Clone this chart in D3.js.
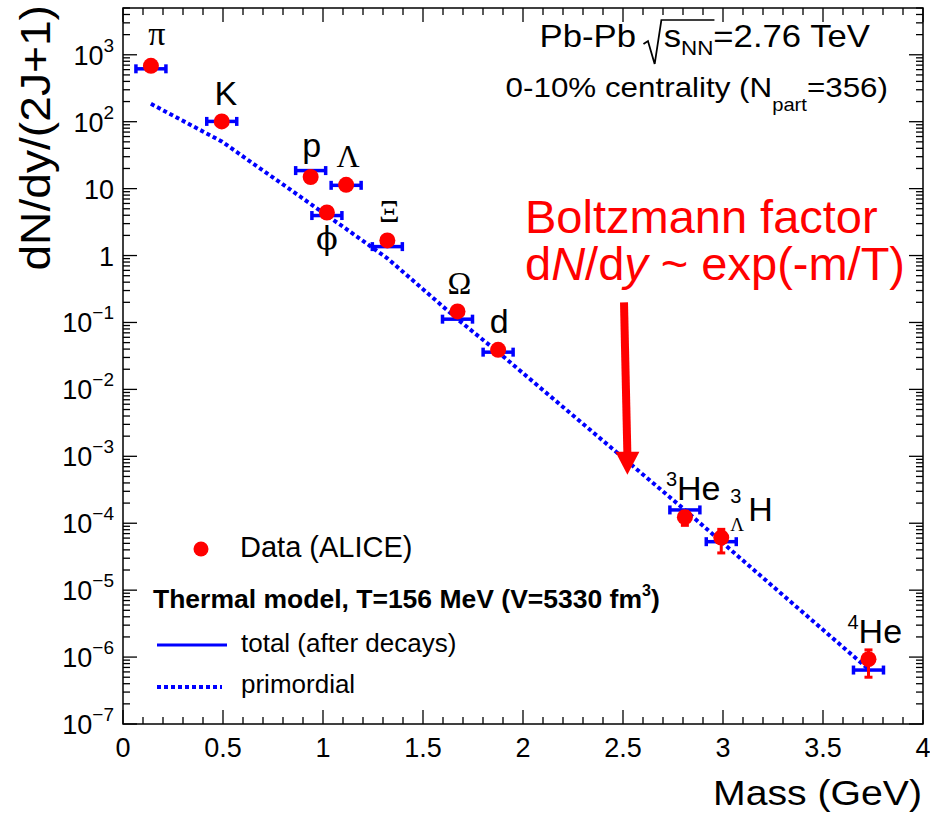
<!DOCTYPE html>
<html>
<head>
<meta charset="utf-8">
<script src="https://cdn.jsdelivr.net/npm/d3@7"></script>
<style>
  body { margin: 0; background: #fff; }
  svg { display: block; font-family: "Liberation Sans", Arial, sans-serif; }
</style>
</head>
<body>
<svg id="chart"></svg>
<script>
// particle masses (GeV), measured yields and thermal model yields
const particles = ['pi', 'K', 'p', 'phi', 'Lambda', 'Xi', 'Omega', 'd', 'He3', 'H3L', 'He4'];
const masses = [0.1396, 0.4937, 0.9383, 1.0195, 1.1157, 1.3217, 1.6725, 1.8756, 2.8094, 2.9913, 3.7274];
const dataYield = [684, 101, 14.9, 4.4, 11.4, 1.68, 0.146, 0.039, 1.23e-4, 6.1e-5, 9.3e-7];
const dataErrLow = [null, null, null, null, null, null, null, null, 0.93e-4, 3.6e-5, 5.0e-7];
const dataErrHigh = [null, null, null, null, null, null, null, null, 1.5e-4, 8.1e-5, 1.28e-6];
const modelTotal = [617, 101, 18.6, 3.96, 11.2, 1.36, 0.112, 0.036, 1.58e-4, 5.3e-5, 6.4e-7];
const modelPrimordial = [185, 50.6, 5.9, 3.96, 2.5, 0.91, 0.112, 0.036, 1.58e-4, 5.3e-5, 6.6e-7];

const xTicks = [0, 0.5, 1, 1.5, 2, 2.5, 3, 3.5, 4];
const xTickLabels = ['0', '0.5', '1', '1.5', '2', '2.5', '3', '3.5', '4'];
const yDecades = [-7, -6, -5, -4, -3, -2, -1, 0, 1, 2, 3];

const width = 930;
const height = 819;
const blue = '#0000ff';
const red = '#ff0000';

const svg = d3.select('#chart')
  .attr('width', width)
  .attr('height', height);

const x = d3.scaleLinear().domain([0, 4]).range([123, 923]);
const y = d3.scaleLog().domain([1e-7, 5e3]).range([724, 8]);

// frame
svg.append('rect')
  .attr('x', x(0)).attr('y', y(5e3))
  .attr('width', x(4) - x(0)).attr('height', y(1e-7) - y(5e3))
  .attr('fill', 'none').attr('stroke', '#000').attr('stroke-width', 1.5);

// x ticks (bottom and top, pointing inward)
const xMinor = d3.range(0, 4.0001, 0.1);
const ticks = svg.append('g').attr('stroke', '#000').attr('stroke-width', 1.3);
xMinor.forEach(v => {
  const major = Math.abs(v * 2 - Math.round(v * 2)) < 1e-6;
  const len = major ? 14 : 7;
  ticks.append('line').attr('x1', x(v)).attr('x2', x(v)).attr('y1', y(1e-7)).attr('y2', y(1e-7) - len);
  ticks.append('line').attr('x1', x(v)).attr('x2', x(v)).attr('y1', y(5e3)).attr('y2', y(5e3) + len);
});

// y ticks (left and right, log)
const yTickVals = [];
yDecades.forEach(e => {
  for (let k = 1; k <= 9; k++) {
    const v = k * Math.pow(10, e);
    if (v <= 5e3) yTickVals.push({ v, major: k === 1 });
  }
});
yTickVals.forEach(t => {
  const len = t.major ? 14 : 7;
  ticks.append('line').attr('x1', x(0)).attr('x2', x(0) + len).attr('y1', y(t.v)).attr('y2', y(t.v));
  ticks.append('line').attr('x1', x(4)).attr('x2', x(4) - len).attr('y1', y(t.v)).attr('y2', y(t.v));
});

// x tick labels
svg.append('g').selectAll('text')
  .data(xTicks)
  .enter()
  .append('text')
  .attr('x', d => x(d))
  .attr('y', 757)
  .attr('text-anchor', 'middle')
  .attr('font-size', 27)
  .text((d, i) => xTickLabels[i]);

// y tick labels
const yLab = svg.append('g').attr('font-size', 27).attr('text-anchor', 'end');
yDecades.forEach(e => {
  const t = yLab.append('text').attr('x', 114).attr('y', y(Math.pow(10, e)) + 10);
  if (e === 0) t.text('1');
  else if (e === 1) t.text('10');
  else {
    t.append('tspan').text('10');
    t.append('tspan').attr('font-size', 19).attr('dy', -13).text(e < 0 ? '\u2212' + (-e) : String(e));
  }
});

// axis titles (the original font runs a little wide, hence the stretch)
svg.append('text')
  .attr('transform', 'translate(50,5) rotate(-90) scale(1.1,1)')
  .attr('text-anchor', 'end')
  .attr('font-size', 42)
  .text('dN/dy/(2J+1)');

svg.append('text')
  .attr('transform', 'translate(922,805) scale(1.12,1)')
  .attr('text-anchor', 'end')
  .attr('font-size', 35)
  .text('Mass (GeV)');

// primordial (dotted line)
const line = d3.line().x(d => x(d[0])).y(d => y(d[1]));
svg.append('path')
  .datum(masses.map((m, i) => [m, modelPrimordial[i]]))
  .attr('d', line)
  .attr('fill', 'none')
  .attr('stroke', blue)
  .attr('stroke-width', 4)
  .attr('stroke-dasharray', '4,3');

// thermal model total: horizontal bars with end caps
const bars = svg.append('g').attr('stroke', blue).attr('stroke-width', 3.5);
masses.forEach((m, i) => {
  const cx = x(m), cy = y(modelTotal[i]);
  bars.append('line').attr('x1', cx - 15).attr('x2', cx + 15).attr('y1', cy).attr('y2', cy);
  bars.append('line').attr('x1', cx - 15).attr('x2', cx - 15).attr('y1', cy - 4.5).attr('y2', cy + 4.5);
  bars.append('line').attr('x1', cx + 15).attr('x2', cx + 15).attr('y1', cy - 4.5).attr('y2', cy + 4.5);
});

// data: error bars and dots
const errs = svg.append('g').attr('stroke', red).attr('stroke-width', 3);
masses.forEach((m, i) => {
  if (dataErrLow[i] == null) return;
  const cx = x(m);
  errs.append('line').attr('x1', cx).attr('x2', cx).attr('y1', y(dataErrLow[i])).attr('y2', y(dataErrHigh[i]));
  errs.append('line').attr('x1', cx - 4).attr('x2', cx + 4).attr('y1', y(dataErrLow[i])).attr('y2', y(dataErrLow[i]));
  errs.append('line').attr('x1', cx - 4).attr('x2', cx + 4).attr('y1', y(dataErrHigh[i])).attr('y2', y(dataErrHigh[i]));
});
svg.append('g').selectAll('circle')
  .data(masses)
  .enter()
  .append('circle')
  .attr('cx', d => x(d))
  .attr('cy', (d, i) => y(dataYield[i]))
  .attr('r', 8)
  .attr('fill', red);

// particle labels, offsets relative to the data point
const labelOffset = {
  pi: [6, -21], K: [4, -16], p: [1, -20], phi: [0, 37], Lambda: [2, -18], Xi: [2, -18],
  Omega: [2, -17], d: [1, -17], He3: [-19, -17], H3L: [9, -17], He4: [-21, -16]
};
const serif = '"Liberation Serif", "DejaVu Serif", serif';
const labels = svg.append('g').attr('font-size', 34).attr('fill', '#000');
function place(name) {
  const i = particles.indexOf(name);
  const o = labelOffset[name];
  return [x(masses[i]) + o[0], y(dataYield[i]) + o[1]];
}
function simple(name, txt, font, size) {
  const [px, py] = place(name);
  labels.append('text').attr('x', px).attr('y', py).attr('text-anchor', 'middle')
    .attr('font-family', font || null).attr('font-size', size || null).text(txt);
}
simple('pi', '\u03c0', serif, 34);
simple('K', 'K');
simple('p', 'p');
simple('Lambda', '\u039b', serif, 32);
simple('phi', '\u03d5', '"DejaVu Serif", serif', 32);
simple('Xi', '\u039e', serif, 32);
simple('Omega', '\u03a9', serif, 32);
simple('d', 'd');
(function () {
  const [px, py] = place('He3');
  const t = labels.append('text').attr('x', px).attr('y', py);
  t.append('tspan').attr('font-size', 20).attr('dy', -14).text('3');
  t.append('tspan').attr('dy', 14).text('He');
})();
(function () {
  const [px, py] = place('H3L');
  labels.append('text').attr('x', px).attr('y', py - 18).attr('font-size', 20).text('3');
  labels.append('text').attr('x', px).attr('y', py + 10).attr('font-size', 19).attr('font-family', serif).text('\u039b');
  labels.append('text').attr('x', px + 18).attr('y', py).text('H');
})();
(function () {
  const [px, py] = place('He4');
  const t = labels.append('text').attr('x', px).attr('y', py);
  t.append('tspan').attr('font-size', 20).attr('dy', -14).text('4');
  t.append('tspan').attr('dy', 14).text('He');
})();

// header text
const head1 = svg.append('g').attr('transform', 'translate(870,47) scale(1.12,1)').attr('font-size', 31);
const h1 = head1.append('text').attr('x', 0).attr('y', 0).attr('text-anchor', 'end');
h1.append('tspan').text('Pb-Pb ');
h1.append('tspan').attr('dx', 16).text('s');
h1.append('tspan').attr('font-size', 20).attr('dy', 8).text('NN');
h1.append('tspan').attr('dy', -8).text('=2.76 TeV');
// radical sign over s_NN
const hn = h1.node();
const sx = hn.getStartPositionOfChar(6).x;
const nnEnd = hn.getEndPositionOfChar(8).x;
head1.append('path')
  .attr('d', `M${sx - 18},-3 L${sx - 14},-6 L${sx - 8},17 L${sx - 2},-27 L${nnEnd + 1},-27`)
  .attr('fill', 'none').attr('stroke', '#000').attr('stroke-width', 1.6);

const head2 = svg.append('g').attr('transform', 'translate(888,97) scale(1.12,1)').attr('font-size', 28);
const h2 = head2.append('text').attr('x', 0).attr('y', 0).attr('text-anchor', 'end');
h2.append('tspan').text('0-10% centrality (N');
h2.append('tspan').attr('font-size', 18).attr('dy', 14).text('part');
h2.append('tspan').attr('dy', -14).text('=356)');

// Boltzmann annotation and arrow
const ann = svg.append('g').attr('fill', red).attr('font-size', 47);
ann.append('text').attr('x', 525).attr('y', 233).text('Boltzmann factor');
const a2 = ann.append('text').attr('x', 525).attr('y', 280);
a2.append('tspan').text('d');
a2.append('tspan').attr('font-style', 'italic').text('N');
a2.append('tspan').text('/d');
a2.append('tspan').attr('font-style', 'italic').text('y');
a2.append('tspan').text(' ~ exp(-m/T)');

const arrowFrom = [2.505, 0.2];
const arrowTo = [2.522, 5.3e-4];
const ax0 = x(arrowFrom[0]), ay0 = y(arrowFrom[1]), ax1 = x(arrowTo[0]), ay1 = y(arrowTo[1]);
svg.append('line')
  .attr('x1', ax0).attr('y1', ay0).attr('x2', ax1).attr('y2', ay1 - 20)
  .attr('stroke', red).attr('stroke-width', 8);
svg.append('path')
  .attr('d', `M${ax1 - 12},${ay1 - 23} L${ax1 + 12},${ay1 - 23} L${ax1},${ay1} Z`)
  .attr('fill', red);

// legend
const leg = svg.append('g').attr('font-size', 29);
leg.append('circle').attr('cx', 201).attr('cy', 549).attr('r', 7.5).attr('fill', red);
leg.append('text').attr('x', 240).attr('y', 557).text('Data (ALICE)');
const lt = leg.append('text').attr('x', 153).attr('y', 608).attr('font-size', 26.5).attr('font-weight', 'bold');
lt.append('tspan').text('Thermal model, T=156 MeV (V=5330 fm');
lt.append('tspan').attr('font-size', 16).attr('dy', -12).text('3');
lt.append('tspan').attr('dy', 12).text(')');
leg.append('line').attr('x1', 157).attr('x2', 227).attr('y1', 645).attr('y2', 645)
  .attr('stroke', blue).attr('stroke-width', 3);
leg.append('text').attr('x', 241).attr('y', 652).attr('font-size', 26).text('total (after decays)');
leg.append('line').attr('x1', 157).attr('x2', 222).attr('y1', 687).attr('y2', 687)
  .attr('stroke', blue).attr('stroke-width', 4).attr('stroke-dasharray', '4,3');
leg.append('text').attr('x', 241).attr('y', 693).attr('font-size', 26).text('primordial');
</script>
</body>
</html>
